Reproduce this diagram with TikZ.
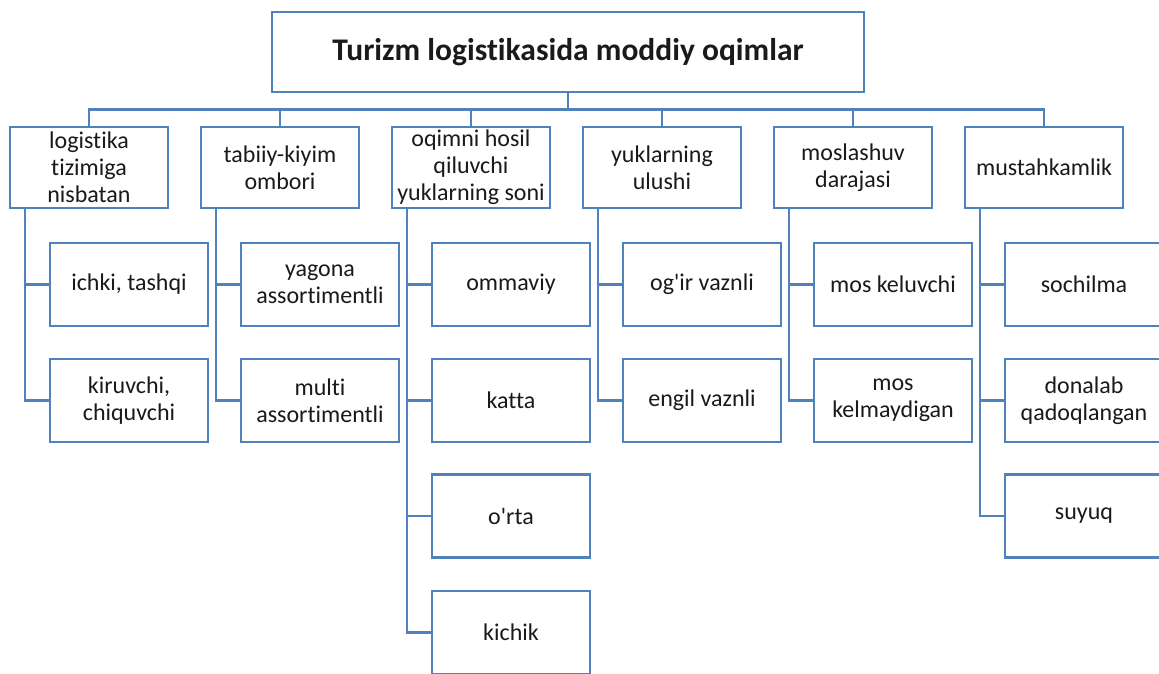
\documentclass[tikz,border=0pt]{standalone}
\usepackage{fontspec}
\setmainfont{Carlito}[Ligatures={TeXOff,CommonOff}]
\definecolor{boxblue}{HTML}{4F81BD}
\definecolor{ink}{HTML}{1A1A1A}
\begin{document}
\begin{tikzpicture}[x=1pt,y=-1pt,
  box/.style={draw=boxblue,line width=2.5pt,fill=white,text=ink,align=center,
    inner sep=1pt,minimum width=158pt,font=\fontsize{24}{27}\selectfont},
  headbox/.style={box,minimum height=81pt},
  leafbox/.style={box,minimum height=83pt},
  titlebox/.style={box,minimum width=592pt,minimum height=80pt,
    font=\fontsize{31.5}{36}\selectfont\bfseries},
  link/.style={draw=boxblue,line width=2.5pt}]
\useasboundingbox (0,0) rectangle (1159,673);

% title
\node[titlebox] (top) at (568,52) {Turizm logistikasida moddiy oqimlar};

% first level categories
\node[headbox] (h1) at (89,167.5)  {logistika\\tizimiga\\nisbatan};
\node[headbox] (h2) at (280,167.5) {tabiiy-kiyim\\ombori};
\node[headbox] (h3) at (471,167.5) {oqimni hosil\\qiluvchi\\yuklarning soni};
\node[headbox] (h4) at (662,167.5) {yuklarning\\ulushi};
\node[headbox] (h5) at (853,167.5) {moslashuv\\darajasi};
\node[headbox] (h6) at (1044,167.5) {mustahkamlik};

% leaves
\node[leafbox] (a1) at (129,284.5) {ichki, tashqi};
\node[leafbox] (a2) at (129,400.5) {kiruvchi,\\chiquvchi};
\node[leafbox] (b1) at (320,284.5) {yagona\\assortimentli};
\node[leafbox] (b2) at (320,400.5) {multi\\assortimentli};
\node[leafbox] (c1) at (511,284.5) {ommaviy};
\node[leafbox] (c2) at (511,400.5) {katta};
\node[leafbox] (c3) at (511,516)   {o'rta};
\node[leafbox] (c4) at (511,632.5) {kichik};
\node[leafbox] (d1) at (702,284.5) {og'ir vaznli};
\node[leafbox] (d2) at (702,400.5) {engil vaznli};
\node[leafbox] (e1) at (893,284.5) {mos keluvchi};
\node[leafbox] (e2) at (893,400.5) {mos\\kelmaydigan};
\node[leafbox] (f1) at (1084,284.5) {sochilma};
\node[leafbox] (f2) at (1084,400.5) {donalab\\qadoqlangan};
\node[leafbox] (f3) at (1084,516)   {suyuq};

% title to categories
\foreach \h in {h1,h2,h3,h4,h5,h6}
  \draw[link] (top.south) -- ++(0,16) -| (\h.north);

% categories to leaves
\foreach \h/\leaves in {h1/{a1,a2},h2/{b1,b2},h3/{c1,c2,c3,c4},
                        h4/{d1,d2},h5/{e1,e2},h6/{f1,f2,f3}}
  \foreach \l in \leaves
    \draw[link] ([xshift=16pt]\h.south west) |- (\l.west);
\end{tikzpicture}
\end{document}
